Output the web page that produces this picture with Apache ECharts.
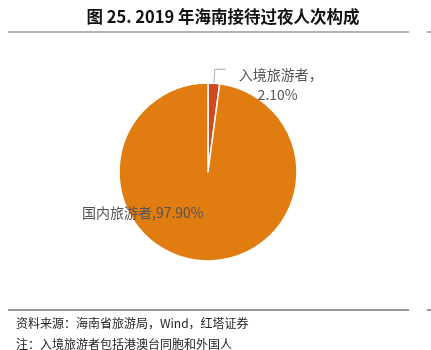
<!DOCTYPE html>
<html><head><meta charset="utf-8">
<script src="https://cdn.jsdelivr.net/npm/echarts@6/dist/echarts.min.js"></script>
<style>html,body{margin:0;padding:0;background:#fff}#c{width:431px;height:350px}</style>
</head><body><div id="c"></div>
<script>
const categories = ['入境旅游者', '国内旅游者'];
const values = [2.10, 97.90];
const colors = ['#D2491E', '#E07C10'];
const titleText = '图 25. 2019 年海南接待过夜人次构成';
const sourceText = '资料来源：海南省旅游局，Wind，红塔证券';
const noteText = '注：入境旅游者包括港澳台同胞和外国人';

const chart = echarts.init(document.getElementById('c'), null, {renderer: 'canvas'});
const font = '"Noto Sans CJK SC", "Liberation Sans", sans-serif';
chart.setOption({
  animation: false,
  graphic: [
    {type: 'text', x: 223, y: 8, style: {text: titleText, font: 'bold 16.5px ' + font, fill: '#111', textAlign: 'center'}},
    {type: 'line', shape: {x1: 8, y1: 32, x2: 409, y2: 32}, style: {stroke: '#999', lineWidth: 1.5}},
    {type: 'line', shape: {x1: 427, y1: 32, x2: 431, y2: 32}, style: {stroke: '#999', lineWidth: 1.5}},
    {type: 'line', shape: {x1: 8, y1: 310, x2: 409, y2: 310}, style: {stroke: '#333', lineWidth: 1}},
    {type: 'line', shape: {x1: 427, y1: 310, x2: 431, y2: 310}, style: {stroke: '#333', lineWidth: 1}},
    {type: 'text', left: 16, top: 317, style: {text: sourceText, font: '12px ' + font, fill: '#222'}},
    {type: 'text', left: 16, top: 338, style: {text: noteText, font: '12px ' + font, fill: '#222'}}
  ],
  series: [{
    type: 'pie',
    center: [208, 172],
    radius: [0, 89],
    startAngle: 90,
    clockwise: true,
    avoidLabelOverlap: false,
    itemStyle: {borderColor: '#fff', borderWidth: 1.5},
    label: {color: '#555', fontSize: 14, fontFamily: font},
    labelLine: {lineStyle: {color: '#aaa', width: 1}},
    data: categories.map((c, i) => ({
      name: c, value: values[i], itemStyle: {color: colors[i]},
      label: i === 0
        ? {show: true, position: 'outside',
           formatter: p => '{gap| }\n{a|' + p.name + '，}\n{a|      ' + p.value.toFixed(2) + '%}',
           rich: {gap: {height: 30, fontSize: 10}, a: {color: '#555', fontSize: 14, fontFamily: font, height: 20, lineHeight: 20}},
           distanceToLabelLine: 13}
        : {show: true, position: 'outside', formatter: p => p.name + ',' + p.value.toFixed(2) + '%'},
      labelLine: i === 0 ? {show: true, length: 14, length2: 11} : {show: false}
    })),
    labelLayout: function (params) {
      if (params.dataIndex === 1) {
        return {x: 82, y: 213, align: 'left', verticalAlign: 'middle'};
      }
      return {};
    }
  }]
});
</script></body></html>
